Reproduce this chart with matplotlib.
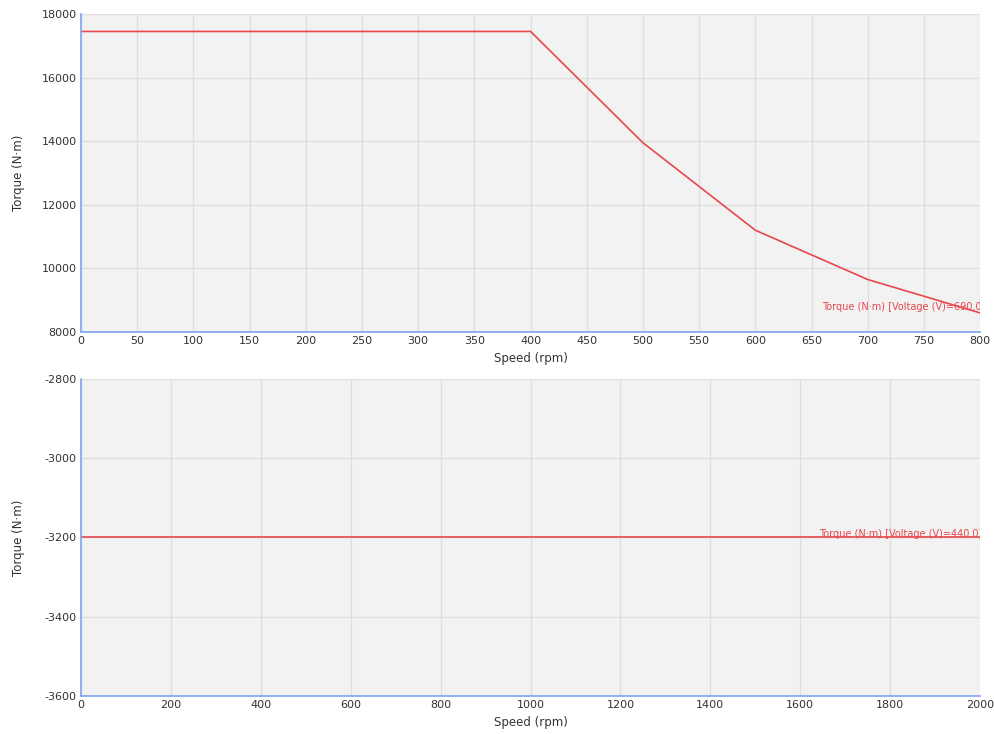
import matplotlib.pyplot as plt

# top chart: torque curve at 690 V
speed_690 = [0, 400, 500, 600, 700, 800]
torque_690 = [17450, 17450, 13950, 11200, 9650, 8600]

# bottom chart: constant torque at 440 V
speed_440 = [0, 2000]
torque_440 = [-3200, -3200]

top_xticks = list(range(0, 801, 50))
top_yticks = [8000, 10000, 12000, 14000, 16000, 18000]
bot_xticks = list(range(0, 2001, 200))
bot_yticks = [-3600, -3400, -3200, -3000, -2800]

RED = "#e8474c"
BLUE = "#7ea6ec"
GRID = "#dedede"
BG = "#f2f2f2"
TXT = "#333333"

plt.rcParams["axes.unicode_minus"] = False

fig = plt.figure(figsize=(9.94, 7.34), dpi=100)
ax1 = fig.add_axes([0.0815, 0.5477, 0.9045, 0.4333])
ax2 = fig.add_axes([0.0815, 0.0518, 0.9045, 0.4319])


def style(ax, xticks, yticks):
    ax.set_facecolor(BG)
    ax.set_xticks(xticks)
    ax.set_yticks(yticks)
    ax.set_xlim(xticks[0], xticks[-1])
    ax.set_ylim(yticks[0], yticks[-1])
    ax.grid(True, color=GRID, linewidth=1)
    ax.set_axisbelow(True)
    for s in ["top", "right"]:
        ax.spines[s].set_visible(False)
    for s in ["left", "bottom"]:
        ax.spines[s].set_color(BLUE)
        ax.spines[s].set_linewidth(1.2)
    ax.tick_params(length=0, labelsize=8, labelcolor=TXT, pad=3)
    ax.set_xlabel("Speed (rpm)", fontsize=8.5, color=TXT, labelpad=4)
    ax.set_ylabel("Torque (N·m)", fontsize=8.5, color=TXT)
    ax.yaxis.set_label_coords(-0.062, 0.5)


style(ax1, top_xticks, top_yticks)
style(ax2, bot_xticks, bot_yticks)

ax1.plot(speed_690, torque_690, color=RED, linewidth=1.2)
ax2.plot(speed_440, torque_440, color=RED, linewidth=1.2)

ax1.text(805, 8780, "Torque (N·m) [Voltage (V)=690.0]", color=RED, fontsize=7,
         ha="right", va="center", clip_on=True)
ax2.text(2005, -3190, "Torque (N·m) [Voltage (V)=440.0]", color=RED, fontsize=7,
         ha="right", va="center", clip_on=True)

fig.savefig("out.png", dpi=100)
